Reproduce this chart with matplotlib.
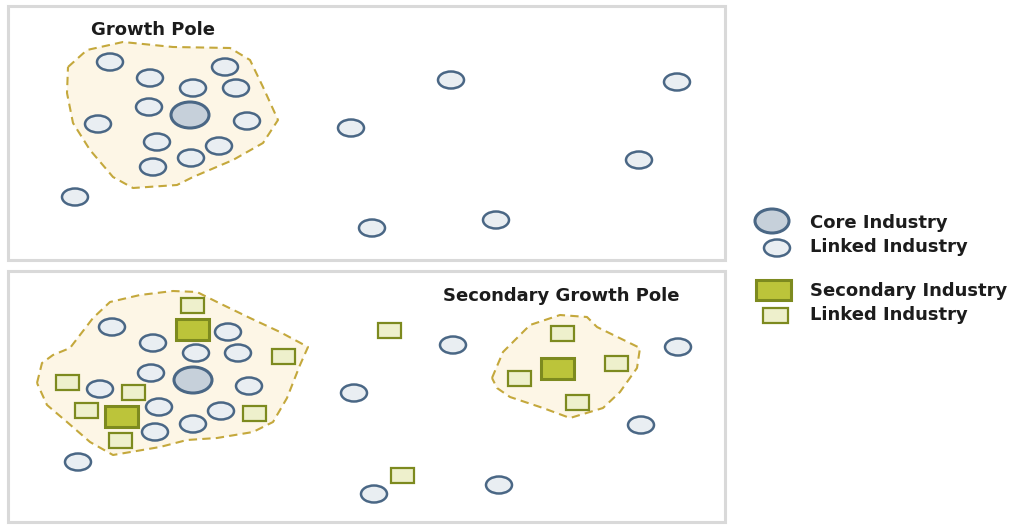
import matplotlib.pyplot as plt
from matplotlib.patches import Ellipse, Rectangle, Polygon

# pixel coordinates (x right, y down)
top_linked_x = [110, 150, 225, 193, 236, 149, 247, 98, 157, 219, 191, 153, 75,
                451, 677, 351, 639, 372, 496]
top_linked_y = [62, 78, 67, 88, 88, 107, 121, 124, 142, 146, 158, 167, 197,
                80, 82, 128, 160, 228, 220]
top_core = (190, 115)
top_blob = [(68, 67), (87, 50), (123, 42), (173, 47), (230, 48), (250, 60), (263, 87),
            (278, 120), (263, 143), (233, 160), (193, 177), (177, 185), (133, 188),
            (113, 177), (90, 150), (73, 123), (67, 93)]

bot_linked_x = [112, 153, 228, 196, 238, 151, 249, 100, 159, 221, 193, 155, 78,
                453, 678, 354, 641, 374, 499]
bot_linked_y = [327, 343, 332, 353, 353, 373, 386, 389, 407, 411, 424, 432, 462,
                345, 347, 393, 425, 494, 485]
bot_core = (193, 380)
bot_sq_x = [192, 283, 67, 133, 86, 254, 120, 389, 562, 616, 519, 577, 402]
bot_sq_y = [305, 356, 382, 392, 410, 413, 440, 330, 333, 363, 378, 402, 475]
bot_sec_x = [192, 121, 557]
bot_sec_y = [329, 416, 368]
bot_blob1 = [(37, 383), (42, 363), (53, 355), (70, 348), (93, 318), (110, 302), (140, 295),
             (173, 291), (197, 292), (217, 302), (250, 318), (280, 332), (308, 347),
             (300, 365), (287, 398), (273, 422), (253, 432), (217, 438), (187, 440),
             (160, 447), (113, 455), (90, 442), (67, 422), (47, 405)]
bot_blob2 = [(492, 378), (503, 352), (530, 325), (560, 315), (587, 317), (597, 327),
             (640, 348), (637, 368), (620, 392), (603, 408), (570, 418), (543, 408),
             (510, 397), (497, 388)]

legend_labels = ['Core Industry', 'Linked Industry', 'Secondary Industry', 'Linked Industry']

# colours
circ_face, circ_edge = '#e9eef2', '#4a6785'
core_face = '#c6d0da'
sq_face, sq_edge = '#eef0cc', '#7d8a1f'
sec_face = '#bcc43a'
blob_face, blob_edge = '#fdf6e6', '#c4a83c'
txt = '#1c1c1c'

fig = plt.figure(figsize=(10.16, 5.25), dpi=100)
ax = fig.add_axes([0, 0, 1, 1])
ax.set_xlim(0, 1016)
ax.set_ylim(525, 0)
ax.axis('off')

# panel frames
for y0, y1 in [(6, 260), (271, 522)]:
    ax.add_patch(Rectangle((8, y0), 717, y1 - y0, facecolor='white',
                           edgecolor='#d9d9d9', lw=2.2, zorder=1))


def blob(pts):
    ax.add_patch(Polygon(pts, closed=True, facecolor=blob_face, edgecolor=blob_edge,
                         lw=1.5, ls=(0, (4, 2.5)), joinstyle='round', zorder=2))


def circle(x, y, w=26, h=17, face=circ_face, lw=1.8):
    ax.add_patch(Ellipse((x, y), w, h, facecolor=face, edgecolor=circ_edge, lw=lw, zorder=3))


def square(x, y, w=23, h=15, face=sq_face, lw=1.6):
    ax.add_patch(Rectangle((x - w / 2, y - h / 2), w, h, facecolor=face,
                           edgecolor=sq_edge, lw=lw, zorder=3))


blob(top_blob)
blob(bot_blob1)
blob(bot_blob2)

for x, y in zip(top_linked_x, top_linked_y):
    circle(x, y)
circle(*top_core, w=38, h=26, face=core_face, lw=2.2)

for x, y in zip(bot_linked_x, bot_linked_y):
    circle(x, y)
circle(*bot_core, w=38, h=26, face=core_face, lw=2.2)

for x, y in zip(bot_sq_x, bot_sq_y):
    square(x, y)
for x, y in zip(bot_sec_x, bot_sec_y):
    square(x, y, w=33, h=21, face=sec_face, lw=2.2)

font = dict(fontsize=13, fontweight='bold', color=txt, family='DejaVu Sans', va='center')
ax.text(91, 30, 'Growth Pole', ha='left', **font)
ax.text(443, 296, 'Secondary Growth Pole', ha='left', **font)

# legend
circle(772, 221, w=34, h=24, face=core_face, lw=2.2)
circle(777, 248)
square(773, 290, w=35, h=20, face=sec_face, lw=2.2)
square(775, 315, w=25, h=15)
for lbl, ly in zip(legend_labels, [223, 247, 291, 315]):
    ax.text(810, ly, lbl, ha='left', **font)

fig.savefig('out.png', dpi=100)
